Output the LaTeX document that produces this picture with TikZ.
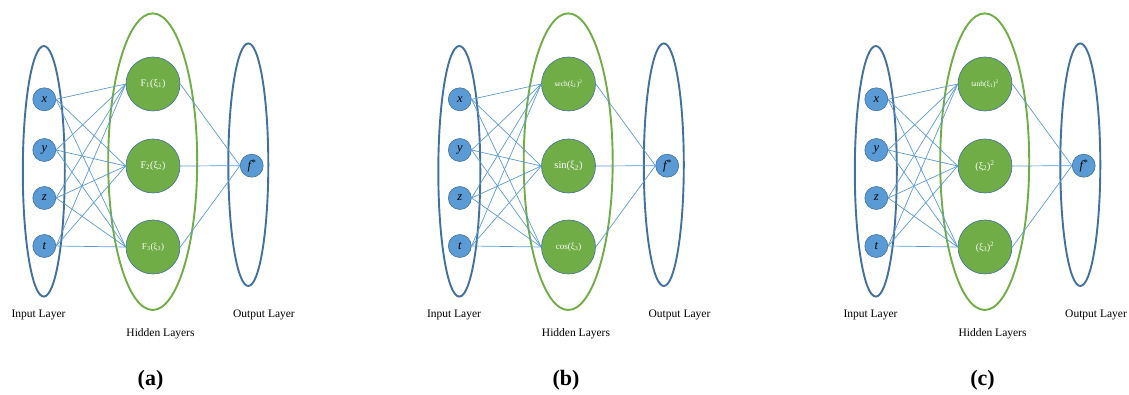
\documentclass[tikz,border=0pt]{standalone}
\usepackage{fontspec}
\setmainfont{Liberation Serif}
\definecolor{inblue}{HTML}{5B9BD5}
\definecolor{darkring}{HTML}{41719C}
\definecolor{hgreen}{HTML}{70AD47}
\tikzset{
  innode/.style={circle, fill=inblue, draw=darkring, line width=0.6pt, minimum size=23pt, inner sep=0pt, font=\fontsize{12.5}{12.5}\selectfont\itshape},
  hidnode/.style={circle, fill=hgreen, draw=darkring, line width=0.6pt, minimum size=54pt, inner sep=0pt, text=white},
  layerblue/.style={draw=darkring, line width=1.9pt},
  layergreen/.style={draw=hgreen, line width=1.9pt},
  conn/.style={draw=inblue, line width=0.7pt},
  layerlbl/.style={font=\fontsize{11.5}{12}\selectfont, inner sep=0pt},
  panellbl/.style={font=\fontsize{22}{22}\selectfont\bfseries, inner sep=0pt},
}
\newcommand\drawpanel[9]{%
\begin{scope}[xshift=#2pt]
  \draw[layerblue] (43.8,171.3) ellipse [x radius=21pt, y radius=125.3pt];
  \draw[layergreen] (152.7,161.7) ellipse [x radius=44.5pt, y radius=148.3pt];
  \draw[layerblue] (248.3,164.7) ellipse [x radius=20pt, y radius=121.3pt];
  \node[innode] (#1x) at (44.3,99.3) {x};
  \node[innode] (#1y) at (44.3,150) {y};
  \node[innode] (#1z) at (44.3,198) {z};
  \node[innode] (#1t) at (44.3,246) {t};
  \node[hidnode, font=\fontsize{#4}{#4}\selectfont] (#1h1) at (153,84) {#3};
  \node[hidnode, font=\fontsize{#6}{#6}\selectfont] (#1h2) at (153,166) {#5};
  \node[hidnode, font=\fontsize{#8}{#8}\selectfont] (#1h3) at (153,247) {#7};
  \node[innode] (#1f) at (251.7,165.7) {f\textsuperscript{*}};
  \foreach \i in {x,y,z,t}{\foreach \j in {1,2,3}{\draw[conn] (#1\i.east) -- (#1h\j.west);}}
  \foreach \j in {1,2,3}{\draw[conn] (#1h\j.east) -- (#1f.west);}
  \node[layerlbl] (#1il) at (38.5,315) {Input Layer};
  \node[layerlbl] (#1hl) at (160.5,334) {Hidden Layers};
  \node[layerlbl] (#1ol) at (264,315) {Output Layer};
  \node[panellbl] (#1pl) at (150.5,380) {(#9)};
\end{scope}}
\begin{document}
\begin{tikzpicture}[x=1pt,y=-1pt]
\useasboundingbox (0,0) rectangle (1129,395);
\drawpanel{a}{0}{F\textsubscript{1}(ξ\textsubscript{1})}{10}{F\textsubscript{2}(ξ\textsubscript{2})}{10}{F\textsubscript{3}(ξ\textsubscript{3})}{9}{a}
\drawpanel{b}{415.5}{sech(ξ\textsubscript{1})\textsuperscript{2}}{7.5}{sin(ξ\textsubscript{2})}{10.5}{cos(ξ\textsubscript{3})}{9}{b}
\drawpanel{c}{832}{tanh(ξ\textsubscript{1})\textsuperscript{2}}{7.5}{(ξ\textsubscript{2})\textsuperscript{2}}{10}{(ξ\textsubscript{3})\textsuperscript{2}}{9.5}{c}
\end{tikzpicture}
\end{document}
